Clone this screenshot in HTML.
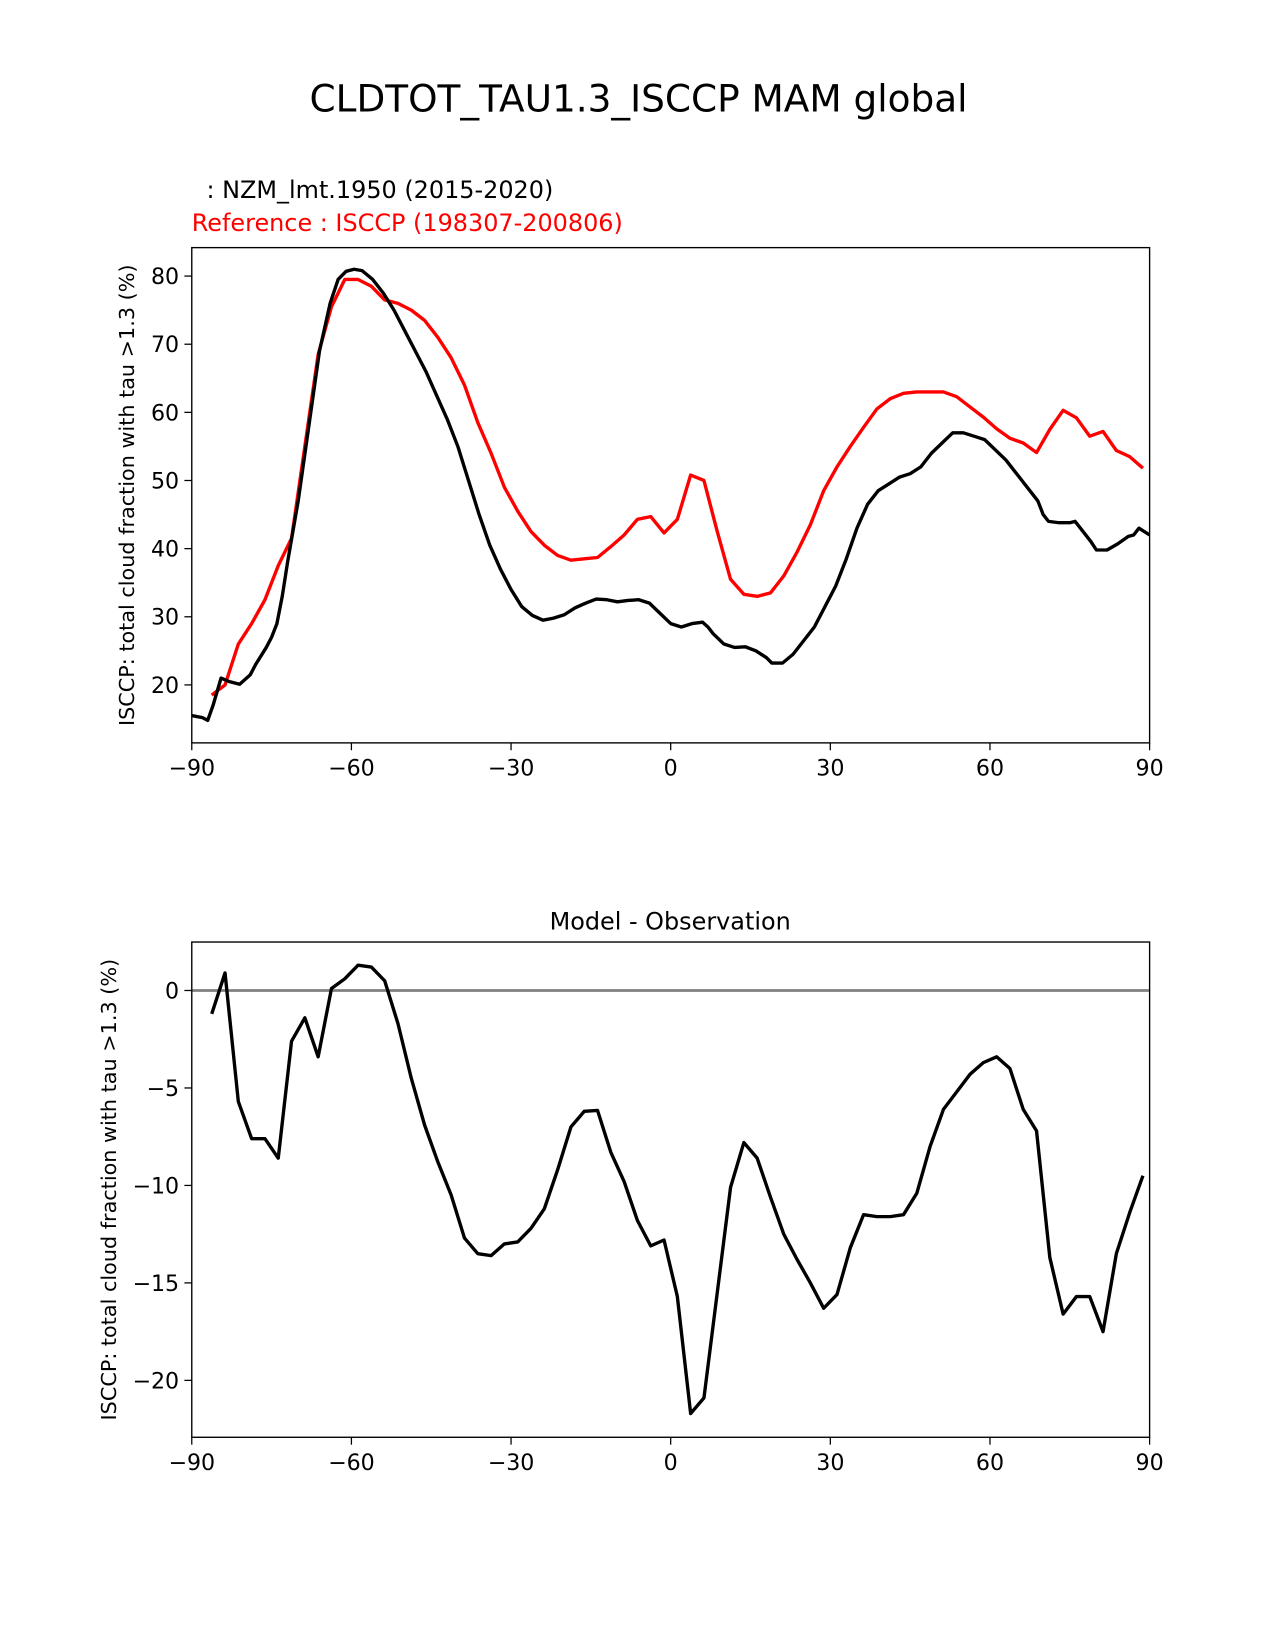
<!DOCTYPE html>
<html><head><meta charset="utf-8"><style>
body{margin:0;background:#fff}
svg{display:block}
text{font-family:"DejaVu Sans","Liberation Sans",sans-serif}
</style></head><body>
<svg id="fig" width="1275" height="1650" xmlns="http://www.w3.org/2000/svg">
<rect width="1275" height="1650" fill="#fff"/>
<g transform="scale(1.05372)">
<text x="606" y="106" font-size="35.5" text-anchor="middle">CLDTOT_TAU1.3_ISCCP MAM global</text>
<text x="196" y="188" font-size="22.7">: NZM_lmt.1950 (2015-2020)</text>
<text x="182" y="219" font-size="22.7" fill="red">Reference : ISCCP (198307-200806)</text>
<text x="636" y="882" font-size="22.7" text-anchor="middle">Model - Observation</text>
<g id="top"></g>
<g id="bot"></g>
</g>
</svg>
<script>
const modelLat=[-90,-88,-87,-86,-84.5,-83,-81,-79,-78,-76,-75,-74,-73,-72,-70,-68,-66,-64,-62.5,-61,-59.5,-58,-56,-54,-52,-50,-48,-46,-44,-42,-40,-38,-36,-34,-32,-30,-28,-26,-24,-22,-20,-18,-16,-14,-12,-10,-8,-6,-4,-2,0,2,4,6,7,8,10,12,14,16,18,19,21,23,25,27,29,31,33,35,37,39,41,43,45,47,49,51,53,55,57,59,61,63,65,67,69,70,71,73,75,76,77,79,80,82,84,86,87,88,90];
const modelVal=[15.5,15.2,14.8,17,21,20.5,20.1,21.5,23,25.5,27,29,33,38,47,58,69,76,79.5,80.7,81,80.8,79.5,77.5,75,72,69,66,62.5,59,55,50,45,40.5,37,34,31.5,30.2,29.5,29.8,30.3,31.3,32,32.6,32.5,32.2,32.4,32.5,32,30.5,29,28.5,29,29.2,28.5,27.5,26,25.5,25.6,25,24,23.2,23.2,24.5,26.5,28.5,31.5,34.5,38.5,43,46.5,48.5,49.5,50.5,51,52,54,55.5,57,57,56.5,56,54.5,53,51,49,47,45,44,43.8,43.8,44,43,41,39.8,39.8,40.7,41.8,42,43,42];
const refLat=[-86.25,-83.75,-81.25,-78.75,-76.25,-73.75,-71.25,-68.75,-66.25,-63.75,-61.25,-58.75,-56.25,-53.75,-51.25,-48.75,-46.25,-43.75,-41.25,-38.75,-36.25,-33.75,-31.25,-28.75,-26.25,-23.75,-21.25,-18.75,-16.25,-13.75,-11.25,-8.75,-6.25,-3.75,-1.25,1.25,3.75,6.25,8.75,11.25,13.75,16.25,18.75,21.25,23.75,26.25,28.75,31.25,33.75,36.25,38.75,41.25,43.75,46.25,48.75,51.25,53.75,56.25,58.75,61.25,63.75,66.25,68.75,71.25,73.75,76.25,78.75,81.25,83.75,86.25,88.75];
const refVal=[18.5,20,26,29,32.5,37.5,41.5,55,68.5,75.5,79.5,79.5,78.5,76.5,76,75,73.5,71,68,64,58.5,54,49,45.5,42.5,40.5,39,38.3,38.5,38.7,40.3,42,44.3,44.7,42.3,44.3,50.8,50,42.5,35.5,33.3,33,33.5,36,39.5,43.5,48.5,52,55,57.8,60.5,62,62.8,63,63,63,62.3,60.8,59.3,57.6,56.2,55.5,54.1,57.5,60.3,59.2,56.5,57.2,54.4,53.5,51.8];
const diffVal=[-1.2,0.9,-5.7,-7.6,-7.6,-8.6,-2.6,-1.4,-3.4,0.1,0.6,1.3,1.2,0.5,-1.7,-4.5,-6.9,-8.8,-10.5,-12.7,-13.5,-13.6,-13,-12.9,-12.2,-11.2,-9.2,-7,-6.2,-6.15,-8.3,-9.8,-11.8,-13.1,-12.8,-15.7,-21.7,-20.9,-15.5,-10.1,-7.8,-8.6,-10.6,-12.5,-13.8,-15,-16.3,-15.6,-13.2,-11.5,-11.6,-11.6,-11.5,-10.4,-8,-6.1,-5.2,-4.3,-3.7,-3.4,-4,-6.1,-7.2,-13.7,-16.6,-15.7,-15.7,-17.5,-13.5,-11.4,-9.5];
const xTicks=[-90,-60,-30,0,30,60,90];
const xTickLabels=["\u221290","\u221260","\u221230","0","30","60","90"];
const topYTicks=[20,30,40,50,60,70,80];
const botYTicks=[0,-5,-10,-15,-20];
const botYTickLabels=["0","\u22125","\u221210","\u221215","\u221220"];

const NS="http://www.w3.org/2000/svg";
function mk(p,t,a){const e=document.createElementNS(NS,t);for(const k in a)e.setAttribute(k,a[k]);p.appendChild(e);return e;}
const L=182,R=1091;
const xs=v=>L+(v+90)*(R-L)/180;
function panel(g,top,bot,ys,yTicks,yLabels,series,zero,ylx){
  const cp='clip'+top;
  const d=mk(g,'defs',{});const c=mk(d,'clipPath',{id:cp});mk(c,'rect',{x:L,y:top,width:R-L,height:bot-top});
  if(zero){const z=mk(g,'line',{x1:L,x2:R,y1:ys(0),y2:ys(0),stroke:'#808080','stroke-width':2.5});
    
    }
  series.forEach(s=>{
    const p=mk(g,'polyline',{points:s.x.map((x,i)=>xs(x)+','+ys(s.y[i])).join(' '),fill:'none',stroke:s.c,'stroke-width':3.2,'stroke-linejoin':'round','clip-path':'url(#'+cp+')'});
    
    
  });
  const fr=mk(g,'rect',{x:L,y:top,width:R-L,height:bot-top,fill:'none',stroke:'#000','stroke-width':1.3});
  
  
  xTicks.forEach((t,i)=>{
    mk(g,'line',{x1:xs(t),x2:xs(t),y1:bot,y2:bot+7,stroke:'#000','stroke-width':1.2});
    const tx=mk(g,'text',{x:xs(t),y:bot+31,'font-size':21,'text-anchor':'middle'});tx.textContent=xTickLabels[i];
    
    
  });
  yTicks.forEach((t,i)=>{
    mk(g,'line',{x1:L-7,x2:L,y1:ys(t),y2:ys(t),stroke:'#000','stroke-width':1.2});
    const tx=mk(g,'text',{x:L-12,y:ys(t)+7.5,'font-size':21,'text-anchor':'end'});tx.textContent=yLabels[i];
    
    
  });
  const yl=mk(g,'text',{x:0,y:0,'font-size':19.7,'text-anchor':'middle',transform:'translate('+ylx+','+((top+bot)/2)+') rotate(-90)'});
  yl.textContent='ISCCP: total cloud fraction with tau >1.3 (%)';
  
  
}
const ysTop=v=>650-(v-20)*(388/60);
panel(document.getElementById('top'),235,705,ysTop,topYTicks,topYTicks.map(String),
  [{x:refLat,y:refVal,c:'#ff0000',n:'reference-line'},{x:modelLat,y:modelVal,c:'#000',n:'model-line'}],false,127);
const ysBot=v=>940-v*18.5;
panel(document.getElementById('bot'),894,1364,ysBot,botYTicks,botYTickLabels,
  [{x:refLat,y:diffVal,c:'#000',n:'difference-line'}],true,110);
</script>
</body></html>
